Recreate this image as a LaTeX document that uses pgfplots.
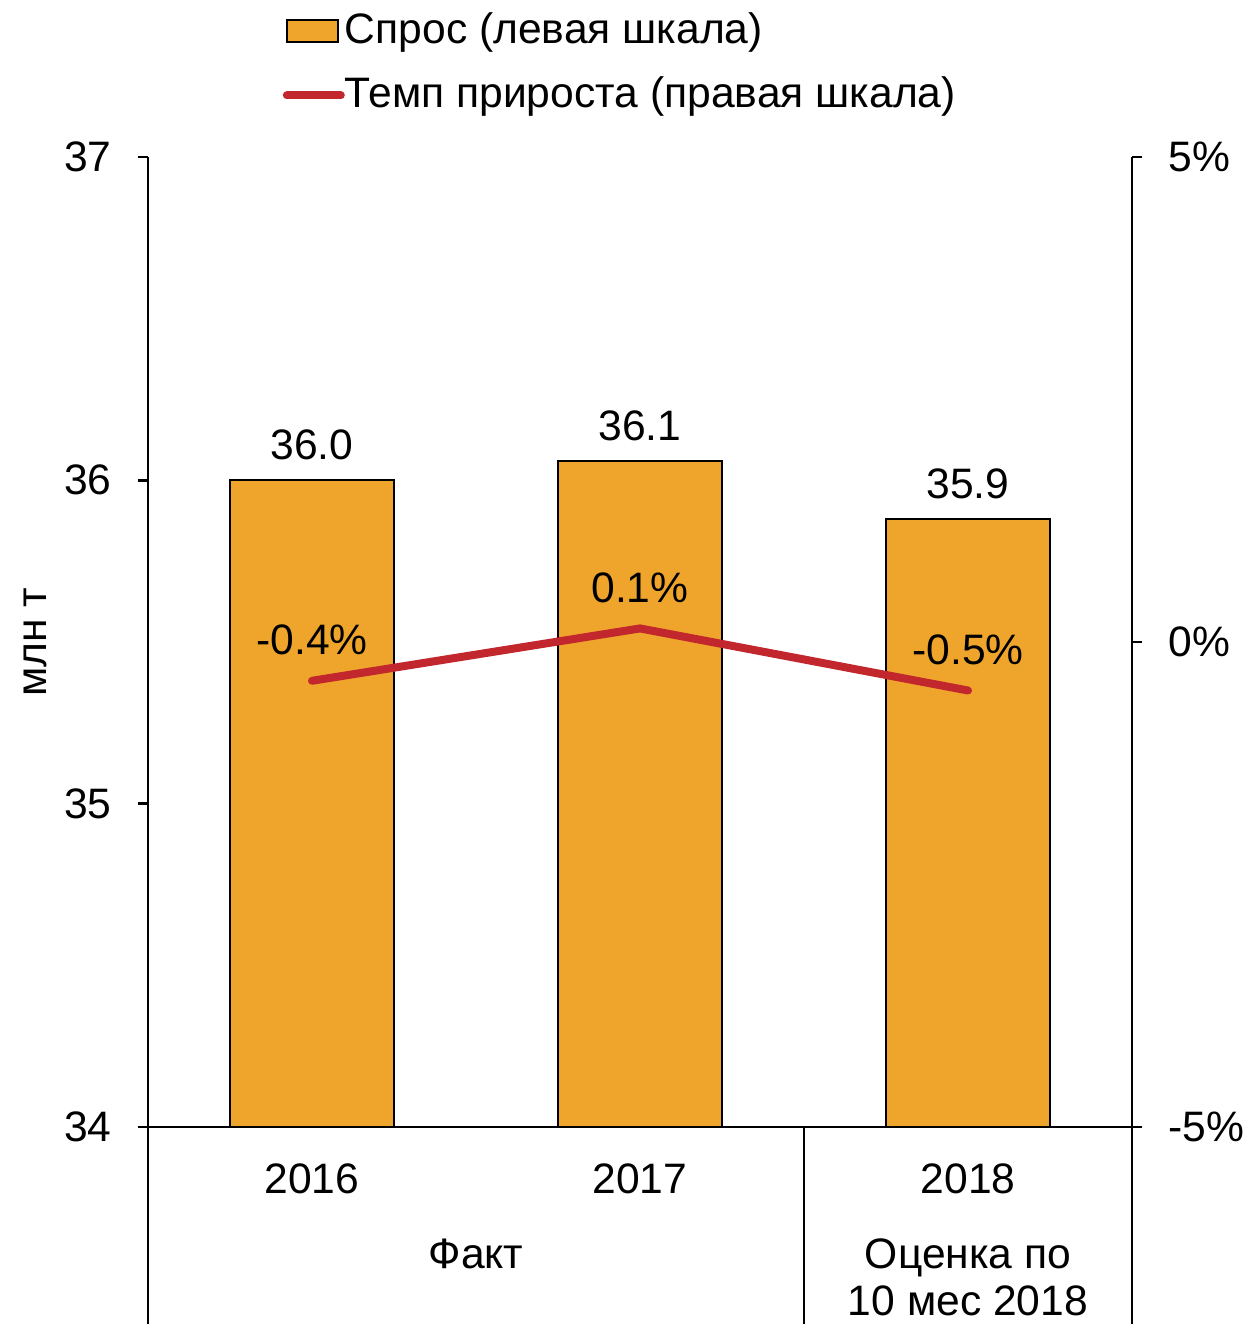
\documentclass[border=0pt]{standalone}
\usepackage{fontspec}
\setmainfont{Liberation Sans}
\usepackage{pgfplots}
\pgfplotsset{compat=1.18}
\definecolor{barorange}{RGB}{239,165,43}
\definecolor{linered}{RGB}{193,39,45}
\newcommand\fsz{\fontsize{10.65pt}{12.8pt}\selectfont}
\begin{document}
\begin{tikzpicture}[font=\fsz]
\begin{axis}[
  name=main,
  at={(0,0)}, anchor=south west,
  scale only axis, width=246pt, height=242.5pt,
  xmin=-0.5, xmax=2.5, ymin=34, ymax=37,
  axis x line*=bottom, axis y line*=left,
  axis line style={-, line width=0.6pt, black},
  xtick={0,1,2}, xticklabels={2016,2017,2018},
  xtick style={draw=none},
  ytick={34,35,36,37},
  tick align=outside, major tick length=2.6pt,
  ytick style={line width=0.6pt, black},
  /pgf/number format/assume math mode=true,
  tick label style={font=\fsz},
  xticklabel style={yshift=-3pt},
  yticklabel style={xshift=-3pt},
  ylabel={млн т},
  ylabel style={at={(axis description cs:-0.1148,0.5)}, anchor=center, font=\fsz},
  legend style={at={(axis description cs:0.1362,1.1495)}, anchor=north west,
    draw=none, fill=none, inner sep=0pt, row sep=6.85pt, column sep=0pt,
    nodes={inner sep=0pt, font=\fsz}},
  legend cell align=left,
]
\addplot[ybar, bar width=41pt, fill=barorange, draw=black, line width=0.5pt,
  nodes near coords, point meta=explicit symbolic,
  every node near coord/.append style={anchor=center, yshift=8.75pt, font=\fsz, text=black},
  legend image code/.code={\draw[fill=barorange, draw=black, line width=0.5pt] (0pt,-2.75pt) rectangle (12.75pt,2.75pt);}]
 coordinates {(0,36.0) [36.0] (1,36.06) [36.1] (2,35.88) [35.9]};
\addlegendentry{Спрос (левая шкала)}
\addlegendimage{legend image code/.code={\draw[linered, line width=2pt, line cap=round] (0pt,0pt) -- (13.5pt,0pt);}}
\addlegendentry{Темп прироста (правая шкала)}
\coordinate (g1) at (axis cs:0.5,34);
\coordinate (g2) at (axis cs:2,34);
\coordinate (sep) at (axis cs:1.5,34);
\end{axis}
\begin{axis}[
  at={(0,0)}, anchor=south west,
  scale only axis, width=246pt, height=242.5pt,
  xmin=-0.5, xmax=2.5, ymin=-5, ymax=5,
  axis x line=none, axis y line*=right,
  axis line style={-, line width=0.6pt, black},
  ytick={-5,0,5}, yticklabels={-5\%,0\%,5\%},
  tick align=outside, major tick length=2.6pt,
  ytick style={line width=0.6pt, black},
  tick label style={font=\fsz},
  yticklabel style={xshift=3pt},
  clip=false,
]
\addplot[linered, line width=2pt, line cap=round, line join=round, mark=none,
  nodes near coords, point meta=explicit symbolic,
  every node near coord/.append style={anchor=center, yshift=10.25pt, font=\fsz, text=black}]
 coordinates {(0,-0.40) [-0.4\%] (1,0.14) [0.1\%] (2,-0.50) [-0.5\%]};
\end{axis}
\draw[line width=0.6pt] (main.south west) -- ++(0,-49.25pt);
\draw[line width=0.6pt] (main.south east) -- ++(0,-49.25pt);
\draw[line width=0.6pt] (sep) -- ++(0,-49.25pt);
\node[anchor=base] at ([yshift=-35.25pt]g1) {Факт};
\node[anchor=base] at ([yshift=-35.25pt]g2) {Оценка по};
\node[anchor=base] at ([yshift=-47pt]g2) {10 мес 2018};
\pgfresetboundingbox
\path[use as bounding box] (-37pt,-49.25pt) rectangle (275.25pt,281.75pt);
\end{tikzpicture}
\end{document}
